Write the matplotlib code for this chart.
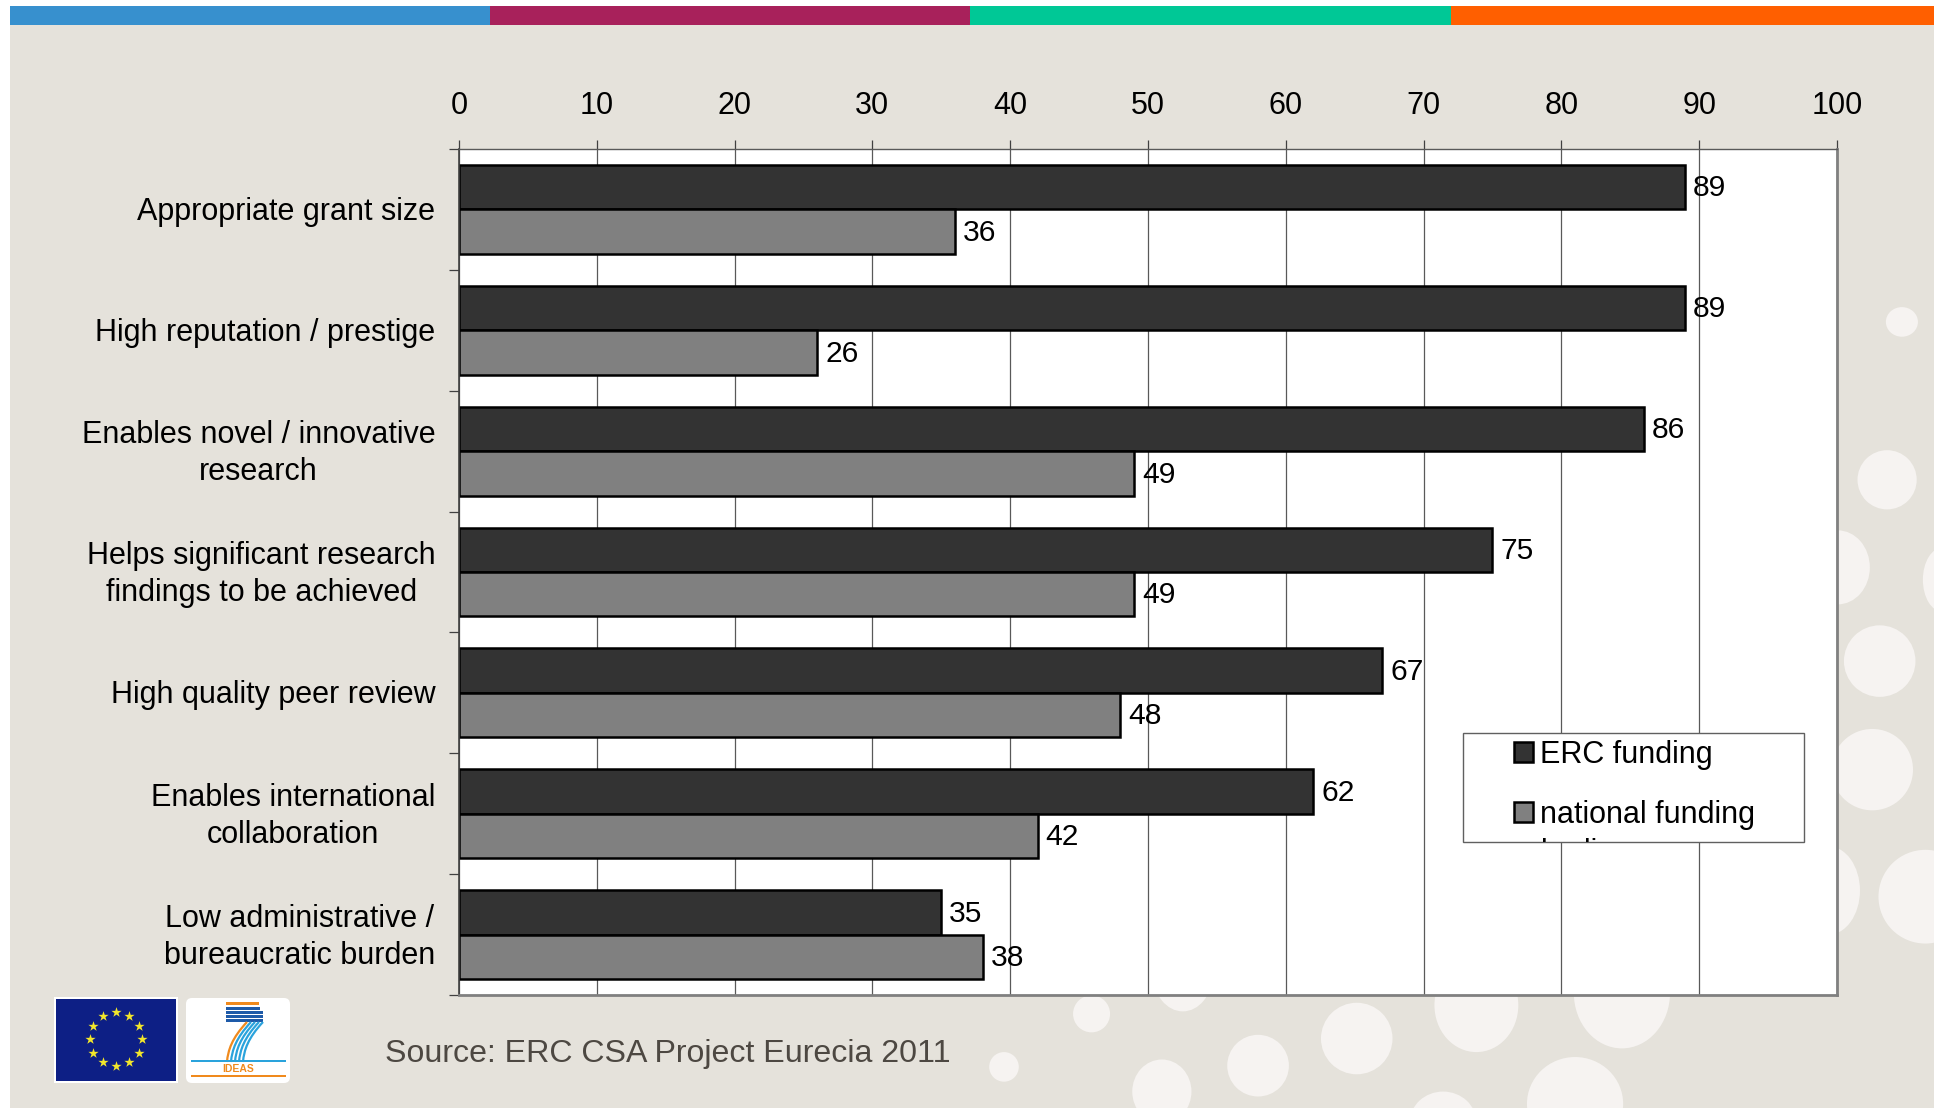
import numpy as np
import matplotlib
matplotlib.use("Agg")
import matplotlib.pyplot as plt
from matplotlib.patches import Rectangle, Ellipse, FancyBboxPatch, PathPatch
from matplotlib.path import Path
from matplotlib.transforms import ScaledTranslation

categories = ["Appropriate grant size", "High reputation / prestige",
              "Enables novel / innovative\nresearch",
              "Helps significant research\nfindings to be achieved",
              "High quality peer review",
              "Enables international\ncollaboration",
              "Low administrative /\nbureaucratic burden"]
erc_funding = [89, 89, 86, 75, 67, 62, 35]
national_funding = [36, 26, 49, 49, 48, 42, 38]
x_ticks = list(range(0, 101, 10))

FS = 22
plt.rcParams['font.family'] = ['Liberation Sans', 'DejaVu Sans']
W, H = 1934, 1108
fig = plt.figure(figsize=(W / 100, H / 100), dpi=100, facecolor='white')

# full-figure layer in pixel coordinates for the slide furniture
px = fig.add_axes([0, 0, 1, 1], zorder=0)
px.set_xlim(0, W); px.set_ylim(H, 0); px.axis('off')
BG = '#E5E2DB'
px.add_patch(Rectangle((10, 6), W - 10, H - 6, fc=BG, ec='none'))
for x0, x1, c in [(10, 490, '#3790CE'), (490, 970, '#A8215B'),
                  (970, 1451, '#00C896'), (1451, 1934, '#FF5F00')]:
    px.add_patch(Rectangle((x0, 6), x1 - x0, 19, fc=c, ec='none'))

S = 1.2334
circles = [(1542, 261, 13, 12), (1530, 389, 24, 24), (1490, 460, 26, 30), (1575, 470, 16, 26),
           (1524, 536, 29, 29), (1518, 624, 33, 33), (1482, 722, 26, 36), (1561, 727, 38, 38),
           (885, 822, 15, 15), (959, 790, 24, 30), (1100, 842, 29, 29), (1197, 815, 34, 38),
           (1315, 805, 39, 45), (1020, 864, 25, 25), (814, 865, 12, 12), (942, 885, 24, 26),
           (1170, 910, 27, 25), (1277, 895, 39, 38)]
for cx, cy, rx, ry in circles:
    px.add_patch(Ellipse((cx * S, cy * S), 2 * rx * S, 2 * ry * S, fc='#F6F3F1', ec='none'))

# EU flag
px.add_patch(Rectangle((54, 997), 124, 86, fc='white', ec='none'))
px.add_patch(Rectangle((56, 999), 120, 82, fc='#0D1F85', ec='none'))
ang = np.deg2rad(np.arange(0, 360, 30))
px.scatter(116 + 26 * np.cos(ang), 1039 + 27 * np.sin(ang), marker='*', s=60, c='#F2E62B', linewidths=0)

# FP7 logo
px.add_patch(FancyBboxPatch((189, 1001), 98, 79, boxstyle='round,pad=3,rounding_size=6', fc='white', ec='none'))
px.add_patch(Rectangle((226, 1002), 33, 3, fc='#F08A1D', ec='none'))
for y in (1007, 1011, 1015, 1019):
    px.add_patch(Rectangle((226, y), 37 if y > 1010 else 34, 3, fc='#1E5AA8', ec='none'))
for i, c in enumerate(['#F08A1D', '#2AA3DC', '#2AA3DC', '#2AA3DC', '#2AA3DC']):
    dx = i * 4
    p = Path([(247 + dx, 1022), (232 + dx, 1038), (228 + dx, 1050), (227 + dx, 1062)],
             [Path.MOVETO, Path.CURVE4, Path.CURVE4, Path.CURVE4])
    px.add_patch(PathPatch(p, fc='none', ec=c, lw=1.6))
px.add_patch(Rectangle((191, 1060), 95, 2, fc='#2AA3DC', ec='none'))
px.text(238, 1069, 'IDEAS', color='#F08A1D', fontsize=7.5, fontweight='bold', ha='center', va='center')
px.add_patch(Rectangle((191, 1075), 95, 1.5, fc='#F08A1D', ec='none'))

px.text(385, 1054, 'Source: ERC CSA Project Eurecia 2011', color='#4D4842', fontsize=23.1, ha='left', va='center')

# main chart
L, R, T, B = 459, 1837, 149, 995
ax = fig.add_axes([L / W, 1 - B / H, (R - L) / W, (B - T) / H], zorder=1, facecolor='white')
n = len(categories)
pos = np.arange(n)
h = 0.368
ax.set_axisbelow(True)
ax.grid(axis='x', color='#595959', lw=0.9)
b1 = ax.barh(pos - h / 2, erc_funding, h, color='#333333', edgecolor='black', lw=1.8, label='ERC funding', zorder=3)
b2 = ax.barh(pos + h / 2, national_funding, h, color='#808080', edgecolor='black', lw=1.8, label='national funding', zorder=3)
ax.set_xlim(0, 100)
ax.set_ylim(n - 0.5, -0.5)
ax.xaxis.tick_top()
ax.set_xticks(x_ticks)
ax.tick_params(axis='x', length=6.5, width=0.9, color='#404040', pad=13.6, labelsize=FS, labelcolor='black')
ax.set_yticks(np.arange(n + 1) - 0.5)
ax.set_yticklabels([])
ax.tick_params(axis='y', which='major', length=7.2, width=0.9, color='#404040')
ax.set_yticks(pos, minor=True)
ax.set_yticklabels(categories, minor=True, fontsize=FS, ha='right', va='center', multialignment='center', linespacing=1.31)
ax.tick_params(axis='y', which='minor', length=0, pad=17)
down = ScaledTranslation(0, -2.6 / 100, fig.dpi_scale_trans)
for lab in ax.get_yticklabels(minor=True):
    lab.set_transform(lab.get_transform() + down)
for b in (b1, b2):
    for lab in ax.bar_label(b, padding=6, fontsize=FS - 0.4, color='black', zorder=5):
        lab.set_va('center_baseline')
        lab.xyann = (5.6, 1.3)
for s, c, w in [('top', '#595959', 1), ('left', '#404040', 1.2), ('right', '#808080', 2), ('bottom', '#808080', 2)]:
    ax.spines[s].set_color(c); ax.spines[s].set_linewidth(w); ax.spines[s].set_zorder(6)

# legend: white box, real legend, third line clipped by the box
box = Rectangle((1463, 733), 341, 109, fc='white', ec='#606060', lw=1.0, transform=px.transData, zorder=4, clip_on=False)
ax.add_patch(box)
leg = ax.legend(handles=[b1, b2], loc='upper left', bbox_to_anchor=(1505, 730.5), bbox_transform=px.transData,
                frameon=False, fontsize=FS, handlelength=0.62, handleheight=0.6, handletextpad=0.24,
                labelspacing=0.98, borderpad=0.3, borderaxespad=0)
leg.set_zorder(5)
clipper = Rectangle((1463, 733), 341, 109, transform=px.transData)
t = ax.text(1540, 853, 'bodies', transform=px.transData, fontsize=FS, ha='left', va='center', zorder=5, clip_on=True)
t.set_clip_path(clipper)

fig.savefig('out.png', dpi=100, facecolor='white')
